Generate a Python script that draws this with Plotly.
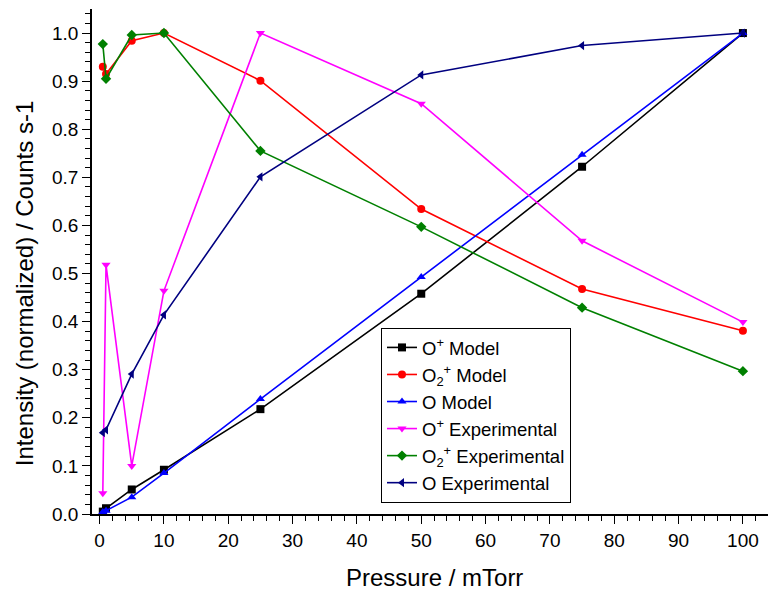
import plotly.graph_objects as go

pressure = [0.5, 1, 5, 10, 25, 50, 75, 100]

o_plus_model = [0.005, 0.012, 0.051, 0.092, 0.218, 0.458, 0.722, 1.0]
o2_plus_model = [0.930, 0.915, 0.984, 1.0, 0.901, 0.634, 0.468, 0.381]
o_model = [0.004, 0.007, 0.035, 0.085, 0.239, 0.493, 0.747, 1.0]
o_plus_exp = [0.043, 0.518, 0.100, 0.464, 1.0, 0.853, 0.568, 0.399]
o2_plus_exp = [0.977, 0.905, 0.996, 1.0, 0.755, 0.597, 0.429, 0.297]
o_exp = [0.169, 0.175, 0.291, 0.414, 0.701, 0.913, 0.974, 1.0]

series = [
    ("O<sup>+</sup> Model", o_plus_model, "#000000", "square"),
    ("O<sub>2</sub><sup>+</sup> Model", o2_plus_model, "#FF0000", "circle"),
    ("O Model", o_model, "#0000FF", "triangle-up"),
    ("O<sup>+</sup> Experimental", o_plus_exp, "#FF00FF", "triangle-down"),
    ("O<sub>2</sub><sup>+</sup> Experimental", o2_plus_exp, "#008000", "diamond"),
    ("O Experimental", o_exp, "#000080", "triangle-left"),
]

FONT = "Arial, Liberation Sans, sans-serif"

fig = go.Figure()
for name, vals, color, sym in series:
    fig.add_trace(go.Scatter(
        x=pressure, y=vals, name=name, mode="lines+markers",
        line=dict(color=color, width=1.6),
        marker=dict(color=color, symbol=sym, size=8),
        cliponaxis=False,
    ))

axis_common = dict(
    showline=True, linecolor="black", linewidth=1.5,
    ticks="outside", ticklen=8, tickwidth=1.3, tickcolor="black",
    showgrid=False, zeroline=False, mirror=False, automargin=False,
    tickfont=dict(family=FONT, size=19, color="black"),
)

fig.update_xaxes(
    range=[-1.18, 103.9], tickmode="linear", tick0=0, dtick=10,
    minor=dict(dtick=2, ticks="outside", ticklen=5, tickcolor="black", tickwidth=1.2, showgrid=False),
    **axis_common,
)
fig.update_yaxes(
    range=[0, 1.05], tickmode="linear", tick0=0, dtick=0.1, tickformat=".1f",
    minor=dict(dtick=0.02, ticks="outside", ticklen=5, tickcolor="black", tickwidth=1.2, showgrid=False),
    **axis_common,
)

fig.update_layout(
    width=768, height=590,
    margin=dict(l=92, r=0, t=9, b=76),
    paper_bgcolor="white", plot_bgcolor="white",
    font=dict(family=FONT, color="black"),
    legend=dict(
        x=0.4275, y=0.022, xanchor="left", yanchor="bottom",
        bgcolor="white", bordercolor="black", borderwidth=1,
        font=dict(family=FONT, size=18.5, color="black"),
        tracegroupgap=0,
    ),
    showlegend=True,
    annotations=[
        dict(text="Pressure / mTorr", xref="paper", yref="paper",
             x=0.5067, y=-0.126, xanchor="center", yanchor="middle",
             showarrow=False, font=dict(family=FONT, size=24, color="black")),
        dict(text="Intensity (normalized) / Counts s-1", xref="paper", yref="paper",
             x=-0.1006, y=0.457, xanchor="center", yanchor="middle", textangle=-90,
             showarrow=False, font=dict(family=FONT, size=24, color="black")),
    ],
)

fig.write_html(
    "out.html",
    config={"displayModeBar": False},
    post_script="document.body.style.margin='0px';document.body.style.overflow='hidden';",
)
